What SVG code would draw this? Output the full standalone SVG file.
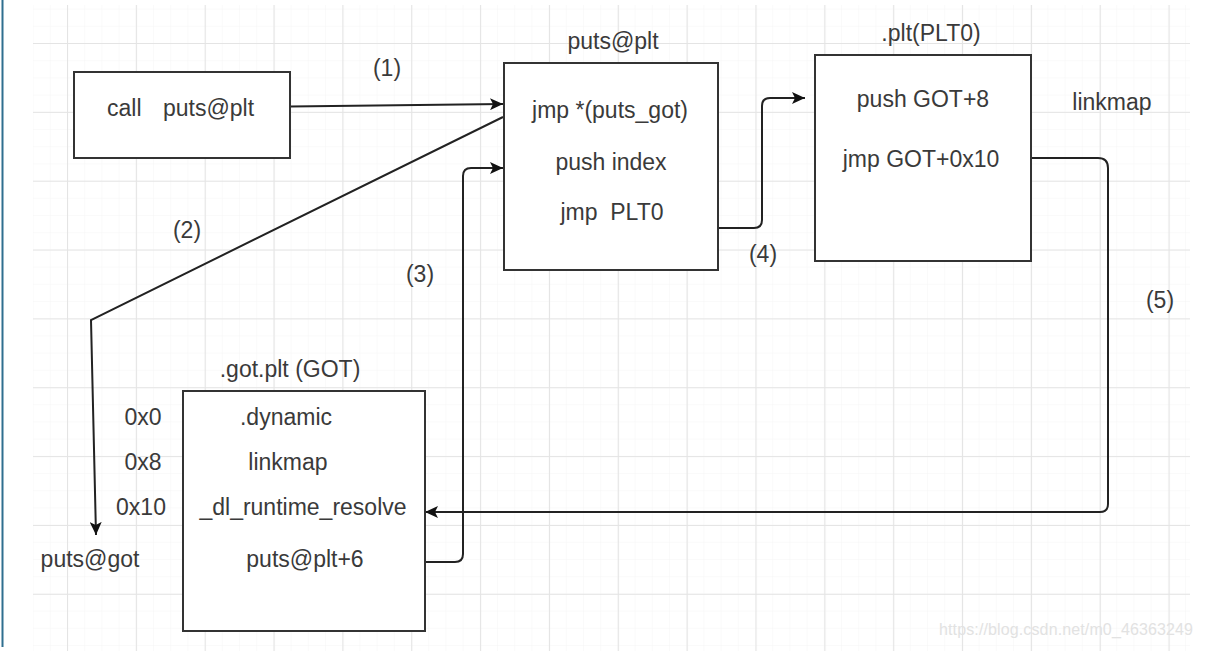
<svg xmlns="http://www.w3.org/2000/svg" width="1211" height="651" viewBox="0 0 1211 651">
<style>
text{font-family:"Liberation Sans",Arial,sans-serif;font-size:23px;fill:#3a3a3a}
.c{text-anchor:middle}
.box{fill:#fff;stroke:#333;stroke-width:2}
.ln{fill:none;stroke:#222;stroke-width:2}
.wm{font-size:16px;fill:#e2e2e2}
</style>
<defs>
<pattern id="minor" x="67" y="43" width="17.2" height="17.2" patternUnits="userSpaceOnUse">
<path d="M0,0V17.2M0,0H17.2" stroke="#f5f5f5" stroke-width="1" fill="none"/>
</pattern>
<pattern id="major" x="67" y="43" width="68.85" height="68.85" patternUnits="userSpaceOnUse">
<path d="M0.5,0V68.85M0,0.5H68.85" stroke="#e4e4e4" stroke-width="1.2" fill="none"/>
</pattern>
<marker id="arr" markerWidth="14" markerHeight="12" refX="13" refY="6" orient="auto" markerUnits="userSpaceOnUse">
<path d="M0,0L13,6L0,12L3,6Z" fill="#111"/>
</marker>
</defs>
<rect width="1211" height="651" fill="#fff"/>
<rect x="33" y="5" width="1157" height="646" fill="url(#minor)"/>
<rect x="33" y="5" width="1157" height="646" fill="url(#major)"/>
<line x1="2.5" y1="0" x2="2.5" y2="647" stroke="#2f6f8f" stroke-width="2"/>

<g id="connectors">
<path class="ln" d="M290,106.5L503,104" marker-end="url(#arr)"/>
<path class="ln" d="M503,117L91,320L96,535" marker-end="url(#arr)"/>
<path class="ln" d="M425,562H455Q463,562 463,554V176Q463,168 471,168H503" marker-end="url(#arr)"/>
<path class="ln" d="M718,228H754Q762,228 762,220V106Q762,98 770,98H805" marker-end="url(#arr)"/>
<path class="ln" d="M1031,158H1098Q1108,158 1108,168V504Q1108,512 1100,512H425" marker-end="url(#arr)"/>
<text class="c" x="387" y="76">(1)</text>
<text class="c" x="187" y="238">(2)</text>
<text class="c" x="420" y="282">(3)</text>
<text class="c" x="763" y="262">(4)</text>
<text class="c" x="1160" y="308">(5)</text>
<text class="c" x="1112" y="110">linkmap</text>
</g>

<g id="call">
<rect class="box" x="74" y="72" width="216" height="86"/>
<text x="107" y="116">call</text>
<text x="163" y="116">puts@plt</text>
</g>

<g id="puts_plt">
<text class="c" x="613" y="49">puts@plt</text>
<rect class="box" x="504" y="63" width="214" height="207"/>
<text class="c" x="610" y="118">jmp *(puts_got)</text>
<text class="c" x="611" y="170">push index</text>
<text class="c" x="612" y="220" xml:space="preserve">jmp  PLT0</text>
</g>

<g id="plt0">
<text class="c" x="931" y="41">.plt(PLT0)</text>
<rect class="box" x="815" y="55" width="216" height="206"/>
<text class="c" x="923" y="107">push GOT+8</text>
<text class="c" x="921" y="167">jmp GOT+0x10</text>
</g>

<g id="got">
<text class="c" x="290" y="377">.got.plt (GOT)</text>
<rect class="box" x="183" y="391" width="242" height="240"/>
<text class="c" x="286" y="425">.dynamic</text>
<text class="c" x="288" y="470">linkmap</text>
<text class="c" x="303" y="515">_dl_runtime_resolve</text>
<text class="c" x="305" y="567">puts@plt+6</text>
<text class="c" x="143" y="425">0x0</text>
<text class="c" x="143" y="470">0x8</text>
<text class="c" x="141" y="515">0x10</text>
</g>

<g id="puts_got">
<text class="c" x="90" y="567">puts@got</text>
</g>

<text class="wm" x="939" y="635" textLength="254">https://blog.csdn.net/m0_46363249</text>
</svg>
